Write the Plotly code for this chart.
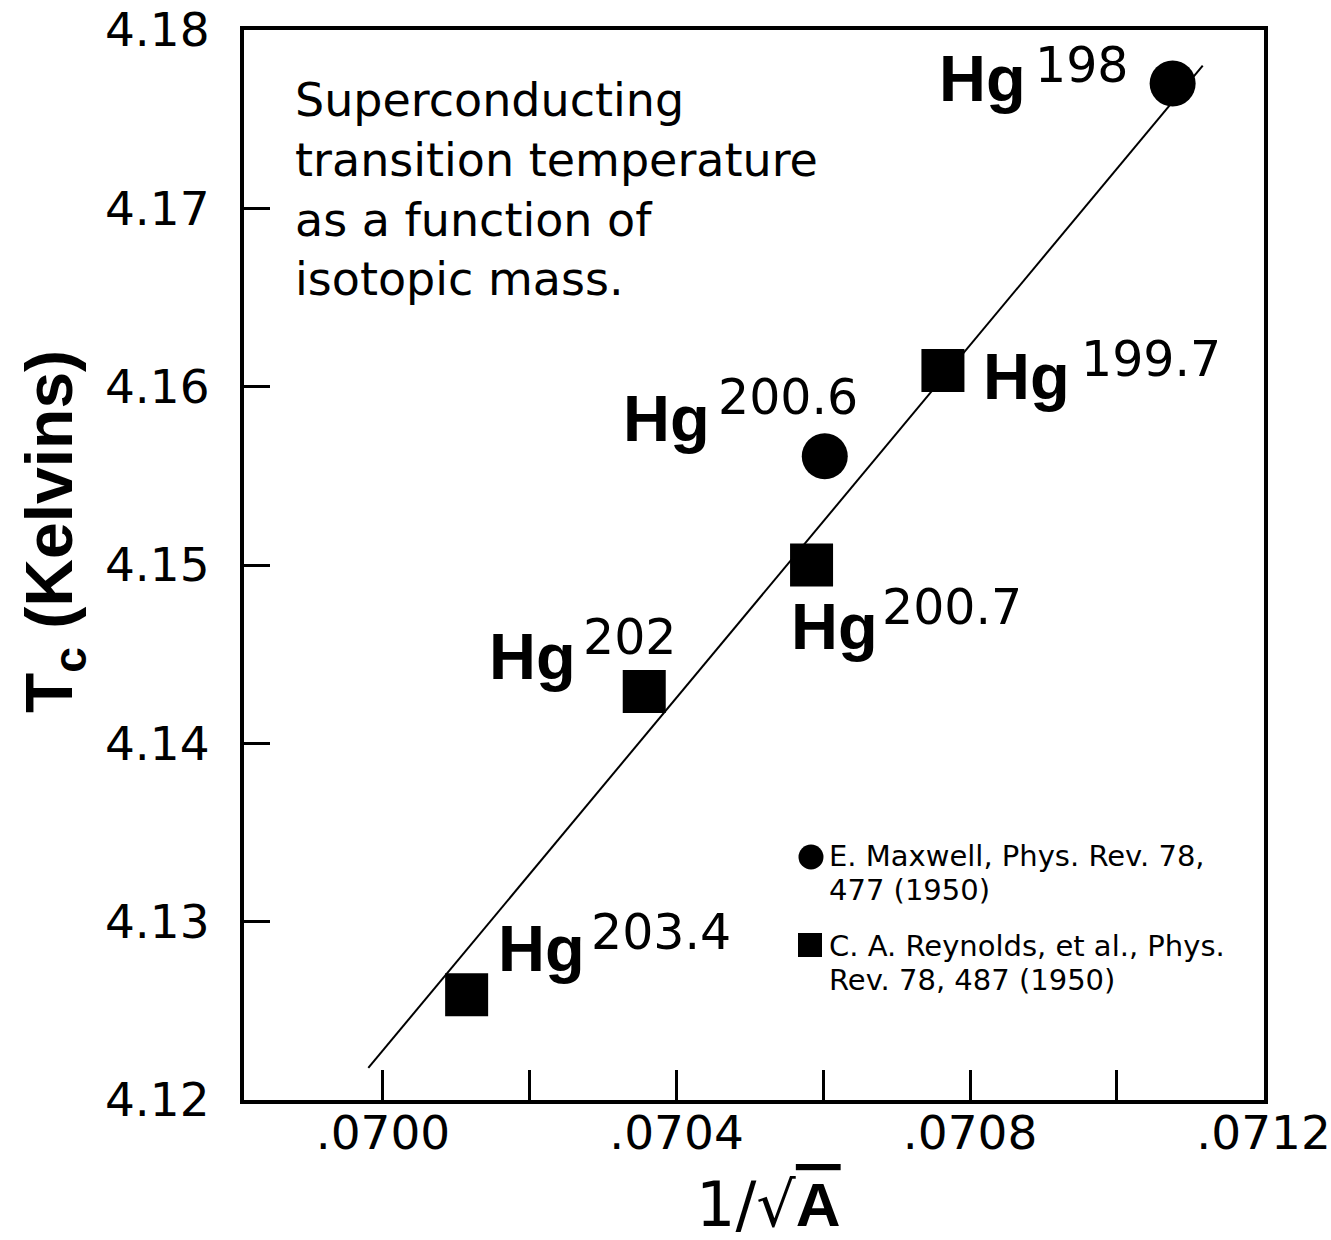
import plotly.graph_objects as go

# ---------------- data ----------------
maxwell_labels = ["198", "200.6"]
maxwell_x = [0.071076, 0.070602]
maxwell_y = [4.1770, 4.1561]

reynolds_labels = ["199.7", "200.7", "202", "203.4"]
reynolds_x = [0.070763, 0.070584, 0.070356, 0.070114]
reynolds_y = [4.1609, 4.1500, 4.1429, 4.1259]

fit_x = [0.06998, 0.071117]
fit_y = [4.1218, 4.1780]

x_tickvals = [0.0700, 0.0704, 0.0708, 0.0712]
x_ticktext = [".0700", ".0704", ".0708", ".0712"]
x_minor_step = 0.0002
y_tickvals = [4.12, 4.13, 4.14, 4.15, 4.16, 4.17, 4.18]
y_ticktext = ["4.12", "4.13", "4.14", "4.15", "4.16", "4.17", "4.18"]

description = ["Superconducting", "transition temperature", "as a function of", "isotopic mass."]
legend_entries = [["E. Maxwell, Phys. Rev. 78,", "477 (1950)"],
                  ["C. A. Reynolds, et al., Phys.", "Rev. 78, 487 (1950)"]]

# ---------------- layout geometry ----------------
W, H = 1331, 1240
L, R, T, B = 244, 67, 30, 140
PX0, PX1 = L, W - R
PY0, PY1 = T, H - B


def px(xp):
    return (xp - PX0) / (PX1 - PX0)


def py(yp):
    return (PY1 - yp) / (PY1 - PY0)


REG = "DejaVu Sans"
BOLD = "Liberation Sans"

fig = go.Figure()

fig.add_trace(go.Scatter(x=fit_x, y=fit_y, mode="lines",
                         line=dict(color="black", width=2),
                         showlegend=False, hoverinfo="skip"))
fig.add_trace(go.Scatter(x=maxwell_x, y=maxwell_y, mode="markers",
                         marker=dict(symbol="circle", size=46, color="black",
                                     line=dict(width=0)),
                         name="E. Maxwell", showlegend=False))
fig.add_trace(go.Scatter(x=reynolds_x, y=reynolds_y, mode="markers",
                         marker=dict(symbol="square", size=43, color="black",
                                     line=dict(width=0)),
                         name="C. A. Reynolds", showlegend=False))

annotations = []

# isotope labels: "Hg" (left px, baseline px) and mass number (left px, baseline px)
hg_pos = {
    "198": ((943, 102), (1038, 83)),
    "200.6": ((627, 442), (721, 415)),
    "199.7": ((987, 400), (1084, 377)),
    "200.7": ((795, 650), (885, 625)),
    "202": ((493, 680), (586, 655)),
    "203.4": ((502, 972), (594, 950)),
}
for lab in maxwell_labels + reynolds_labels:
    (hx, hb), (nx, nb) = hg_pos[lab]
    annotations.append(dict(
        xref="paper", yref="paper", x=px(hx - 5), y=py(hb + 14),
        xanchor="left", yanchor="bottom", showarrow=False, borderpad=0,
        text="<b>Hg</b>",
        font=dict(family=BOLD, size=65, color="black")))
    annotations.append(dict(
        xref="paper", yref="paper", x=px(nx - 4), y=py(nb + 12),
        xanchor="left", yanchor="bottom", showarrow=False, borderpad=0,
        text=lab,
        font=dict(family=REG, size=49, color="black")))

# description text
annotations.append(dict(
    xref="paper", yref="paper", x=px(294), y=py(72),
    xanchor="left", yanchor="top", align="left", showarrow=False, borderpad=0,
    text="<br>".join(description),
    font=dict(family=REG, size=46, color="black")))

# legend text (two lines per entry, tight line spacing)
leg_top = [838, 928]
for lines, top in zip(legend_entries, leg_top):
    annotations.append(dict(
        xref="paper", yref="paper", x=px(828), y=py(top),
        xanchor="left", yanchor="top", align="left", showarrow=False, borderpad=0,
        text="<br>".join("<span style='font-size:29px'>%s</span>" % s for s in lines),
        font=dict(family=REG, size=26.3, color="black")))

# axis titles
annotations.append(dict(
    xref="paper", yref="paper", x=px(54), y=py(532),
    xanchor="center", yanchor="middle", textangle=-90, showarrow=False, borderpad=0,
    text="<b>T<sub>c</sub> (Kelvins)</b>",
    font=dict(family=BOLD, size=66, color="black")))
annotations.append(dict(
    xref="paper", yref="paper", x=px(768), y=py(1167),
    xanchor="center", yanchor="top", showarrow=False, borderpad=0,
    text="<span style='font-family:DejaVu Sans'>1/√</span><b><span style='text-decoration:overline'>A</span></b>",
    font=dict(family=BOLD, size=62, color="black")))

shapes = [
    dict(type="circle", xref="paper", yref="paper",
         x0=px(798.5), x1=px(823.5), y0=py(869.5), y1=py(844.5),
         fillcolor="black", line=dict(width=0)),
    dict(type="rect", xref="paper", yref="paper",
         x0=px(798), x1=px(822), y0=py(957), y1=py(933),
         fillcolor="black", line=dict(width=0)),
]

x_lo = 0.0700 - (383 - PX0) * 0.0002 / 146.8

fig.update_layout(
    width=W, height=H,
    margin=dict(l=L, r=R, t=T, b=B, pad=0, autoexpand=False),
    paper_bgcolor="white", plot_bgcolor="white",
    annotations=annotations, shapes=shapes,
    showlegend=False,
    xaxis=dict(range=[x_lo, 0.0712005], tickmode="array", tickvals=x_tickvals,
               ticktext=x_ticktext, ticks="inside", ticklen=30, tickwidth=3,
               tickcolor="black", showline=True, linewidth=4, linecolor="black",
               mirror=True, showgrid=False, zeroline=False, automargin=False,
               minor=dict(ticks="inside", ticklen=30, tickwidth=3, tickcolor="black",
                          tick0=x_tickvals[0], dtick=x_minor_step, showgrid=False),
               tickfont=dict(family=REG, size=47, color="black"),
               ticklabelstandoff=-11),
    yaxis=dict(range=[4.12, 4.18], tickmode="array", tickvals=y_tickvals,
               ticktext=y_ticktext, ticks="inside", ticklen=26, tickwidth=3,
               tickcolor="black", showline=True, linewidth=4, linecolor="black",
               mirror=True, showgrid=False, zeroline=False, automargin=False,
               tickfont=dict(family=REG, size=47, color="black"),
               ticklabelstandoff=21),
)

fig.write_html("out.html")
